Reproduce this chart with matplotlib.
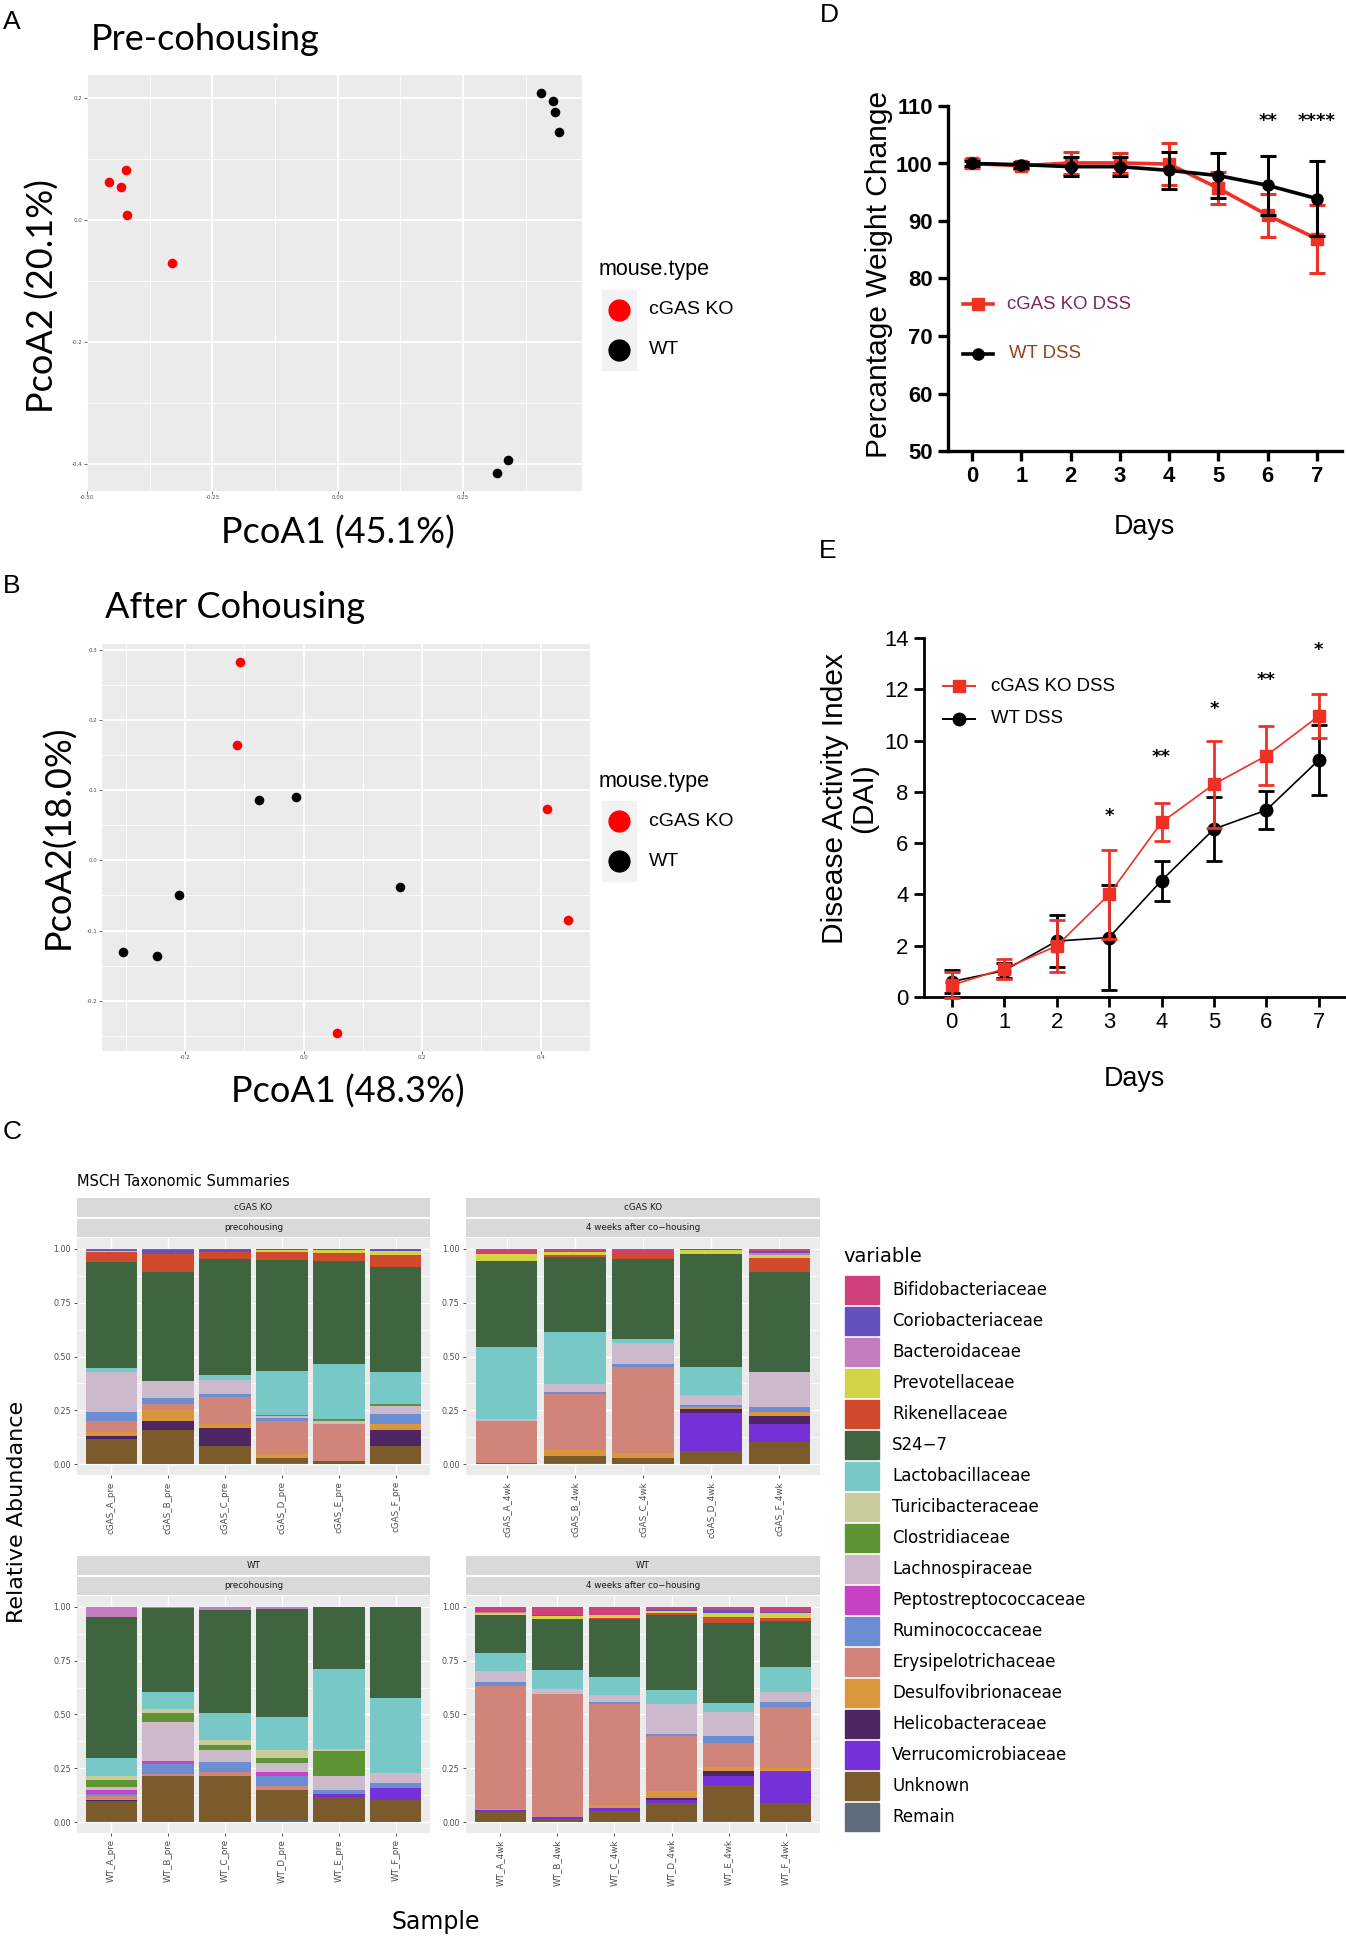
import numpy as np
import matplotlib
matplotlib.use("Agg")
import matplotlib.pyplot as plt
from matplotlib import font_manager
from matplotlib.patches import Rectangle
from matplotlib.lines import Line2D

W, H = 1346, 1950

# ---------------- A / B : PCoA scores ----------------
a_ko_x = [-0.457, -0.433, -0.423, -0.421, -0.331]
a_ko_y = [0.062, 0.055, 0.082, 0.008, -0.071]
a_wt_x = [0.405, 0.429, 0.433, 0.442, 0.340, 0.318]
a_wt_y = [0.209, 0.195, 0.178, 0.144, -0.393, -0.415]

b_ko_x = [-0.107, -0.112, 0.411, 0.446, 0.056]
b_ko_y = [0.283, 0.165, 0.074, -0.085, -0.247]
b_wt_x = [-0.076, -0.013, -0.210, -0.304, -0.248, 0.163]
b_wt_y = [0.086, 0.090, -0.050, -0.130, -0.137, -0.038]

# ---------------- D : weight change ----------------
days = [0, 1, 2, 3, 4, 5, 6, 7]
wt_ko = [100.0, 99.6, 100.1, 100.1, 99.9, 95.7, 91.0, 86.9]
wt_ko_err = [0.7, 0.6, 1.9, 1.8, 3.6, 2.8, 3.7, 5.9]
wt_wt = [100.0, 99.8, 99.45, 99.45, 98.8, 97.9, 96.2, 93.9]
wt_wt_err = [0.5, 0.5, 1.6, 1.6, 3.25, 3.85, 5.1, 6.5]
d_star_days = [6, 7]
d_stars = ["**", "****"]

# ---------------- E : DAI ----------------
dai_ko = [0.46, 1.10, 1.99, 4.0, 6.81, 8.30, 9.41, 10.96]
dai_ko_err = [0.5, 0.39, 1.0, 1.73, 0.74, 1.69, 1.15, 0.85]
dai_wt = [0.60, 1.03, 2.18, 2.32, 4.54, 6.55, 7.29, 9.24]
dai_wt_err = [0.45, 0.3, 1.0, 2.05, 0.78, 1.26, 0.75, 1.36]
e_star_days = [3, 4, 5, 6, 7]
e_stars = ["*", "**", "*", "**", "*"]
e_star_y = [7.05, 9.34, 11.23, 12.35, 13.52]

# ---------------- C : taxonomic summaries ----------------
# legend order (top of stack first)
taxa = ["Bifidobacteriaceae", "Coriobacteriaceae", "Bacteroidaceae", "Prevotellaceae",
        "Rikenellaceae", "S24\u22127", "Lactobacillaceae", "Turicibacteraceae",
        "Clostridiaceae", "Lachnospiraceae", "Peptostreptococcaceae", "Ruminococcaceae",
        "Erysipelotrichaceae", "Desulfovibrionaceae", "Helicobacteraceae",
        "Verrucomicrobiaceae", "Unknown", "Remain"]
tax_colors = ["#D0407A", "#6650BE", "#C57DC2", "#D2D444", "#D24A2E", "#3E6540",
              "#77C8C6", "#C9CC9A", "#5F9434", "#CCBACC", "#C842C4", "#6B8ED2",
              "#D1847A", "#D9963C", "#4E2663", "#7630D8", "#7B5B2C", "#5D6B7B"]

# each row is one sample, values listed bottom-up (Remain ... Bifidobacteriaceae)
ko_pre_names = ["cGAS_A_pre", "cGAS_B_pre", "cGAS_C_pre", "cGAS_D_pre", "cGAS_E_pre", "cGAS_F_pre"]
ko_pre = [
    [0.005, 0.114, 0, 0.012, 0.020, 0.050, 0.040, 0, 0.185, 0, 0, 0.020, 0.494, 0.045, 0.005, 0, 0.005, 0.005],
    [0.003, 0.158, 0, 0.039, 0.050, 0.028, 0.031, 0, 0.078, 0, 0, 0, 0.503, 0.085, 0, 0, 0.020, 0.005],
    [0.003, 0.080, 0, 0.083, 0.022, 0.122, 0.016, 0, 0.063, 0.004, 0, 0.020, 0.539, 0.031, 0, 0, 0.015, 0.002],
    [0.004, 0.024, 0, 0, 0.019, 0.154, 0.012, 0, 0.011, 0.003, 0, 0.204, 0.516, 0.036, 0.012, 0, 0.003, 0.002],
    [0.003, 0.012, 0, 0, 0, 0.172, 0, 0, 0.012, 0.010, 0, 0.255, 0.481, 0.036, 0.011, 0, 0.005, 0.003],
    [0.003, 0.080, 0, 0.078, 0.024, 0, 0.047, 0, 0.039, 0.008, 0, 0.149, 0.489, 0.052, 0.019, 0, 0.009, 0.003],
]
ko_4wk_names = ["cGAS_A_4wk", "cGAS_B_4wk", "cGAS_C_4wk", "cGAS_D_4wk", "cGAS_F_4wk"]
ko_4wk = [
    [0.004, 0.004, 0, 0, 0, 0.191, 0, 0, 0.012, 0, 0, 0.335, 0.395, 0, 0.034, 0, 0, 0.025],
    [0.004, 0.035, 0, 0, 0.027, 0.259, 0.009, 0, 0.038, 0, 0, 0.240, 0.348, 0.009, 0.014, 0, 0, 0.017],
    [0.003, 0.025, 0, 0, 0.025, 0.398, 0.016, 0, 0.094, 0, 0, 0.019, 0.373, 0.027, 0, 0, 0, 0.020],
    [0.003, 0.057, 0.179, 0.019, 0.006, 0, 0.011, 0, 0.047, 0, 0, 0.130, 0.526, 0, 0.016, 0, 0.003, 0.003],
    [0.003, 0.102, 0.080, 0.038, 0.020, 0, 0.024, 0, 0.161, 0, 0, 0, 0.462, 0.069, 0.013, 0.008, 0.008, 0.013],
]
wt_pre_names = ["WT_A_pre", "WT_B_pre", "WT_C_pre", "WT_D_pre", "WT_E_pre", "WT_F_pre"]
wt_pre = [
    [0.008, 0.090, 0, 0.005, 0.005, 0.012, 0.010, 0.018, 0.015, 0.033, 0.020, 0.084, 0.653, 0, 0, 0.047, 0, 0],
    [0.003, 0.213, 0, 0, 0, 0.009, 0.044, 0.016, 0.181, 0.039, 0.020, 0.081, 0.386, 0, 0, 0.008, 0, 0],
    [0.003, 0.213, 0, 0, 0, 0.019, 0.044, 0, 0.058, 0.020, 0.023, 0.128, 0.477, 0, 0, 0.016, 0, 0],
    [0.011, 0.137, 0, 0, 0, 0.020, 0.047, 0.016, 0.042, 0.027, 0.036, 0.152, 0.500, 0, 0, 0.012, 0, 0],
    [0.003, 0.114, 0.012, 0, 0, 0, 0.019, 0, 0.067, 0.116, 0.009, 0.373, 0.287, 0, 0, 0, 0, 0],
    [0.003, 0.102, 0.055, 0, 0, 0, 0.020, 0, 0.047, 0, 0, 0.348, 0.425, 0, 0, 0, 0, 0],
]
wt_4wk_names = ["WT_A_4wk", "WT_B_4wk", "WT_C_4wk", "WT_D_4wk", "WT_E_4wk", "WT_F_4wk"]
wt_4wk = [
    [0.003, 0.044, 0.012, 0, 0.004, 0.570, 0.020, 0, 0.047, 0, 0, 0.084, 0.179, 0, 0.008, 0.006, 0, 0.023],
    [0.003, 0.013, 0.008, 0, 0, 0.573, 0, 0, 0.020, 0, 0, 0.089, 0.239, 0, 0.010, 0, 0.006, 0.039],
    [0.003, 0.047, 0.016, 0, 0.012, 0.469, 0.011, 0, 0.033, 0, 0, 0.081, 0.269, 0.008, 0.015, 0, 0, 0.036],
    [0.003, 0.088, 0.011, 0.011, 0.033, 0.253, 0.011, 0, 0.141, 0, 0, 0.064, 0.349, 0.009, 0.007, 0, 0.007, 0.013],
    [0.008, 0.164, 0.044, 0.022, 0.017, 0.113, 0.031, 0, 0.114, 0, 0, 0.042, 0.370, 0.028, 0.019, 0, 0.012, 0.016],
    [0.003, 0.086, 0.148, 0, 0.017, 0.280, 0.023, 0, 0.047, 0, 0, 0.117, 0.213, 0.016, 0.019, 0, 0.008, 0.023],
]

# ---------------------------------------------------------------
names = {f.name for f in font_manager.fontManager.ttflist}
if "Liberation Sans Narrow" in names:
    narrow, nsc = "Liberation Sans Narrow", 1.0
else:
    narrow, nsc = "Liberation Sans", 0.84
calib = "Lato" if "Lato" in names else "DejaVu Sans"

plt.rcParams["font.family"] = ["DejaVu Sans"]
RED = "#EE3124"

fig = plt.figure(figsize=(W / 100, H / 100), dpi=100)


def box(l, t, r, b):
    return [l / W, 1 - b / H, (r - l) / W, (b - t) / H]


def ftext(x, y, s, **kw):
    kw.setdefault("ha", "center")
    kw.setdefault("va", "center")
    fig.text(x / W, 1 - y / H, s, **kw)


# ---------------- panels A and B ----------------
def pcoa(rect, kox, koy, wtx, wty, xlim, ylim, xt, xtl, xm, yt, ytl, ym):
    ax = fig.add_axes(rect)
    ax.set_facecolor("#EBEBEB")
    ax.scatter(kox, koy, s=48, color="#FF0000", linewidths=0, zorder=3)
    ax.scatter(wtx, wty, s=48, color="black", linewidths=0, zorder=3)
    ax.set_xlim(*xlim)
    ax.set_ylim(*ylim)
    ax.set_xticks(xt)
    ax.set_xticklabels(xtl)
    ax.set_xticks(xm, minor=True)
    ax.set_yticks(yt)
    ax.set_yticklabels(ytl)
    ax.set_yticks(ym, minor=True)
    ax.grid(which="major", color="white", lw=1.3)
    ax.grid(which="minor", color="white", lw=0.6)
    ax.set_axisbelow(True)
    for s in ax.spines.values():
        s.set_visible(False)
    ax.tick_params(which="major", labelsize=4, labelcolor="#4D4D4D", color="#333333",
                   length=2, width=0.5, pad=1)
    ax.tick_params(which="minor", length=0)
    return ax


def mouse_legend(y_title, y1, y2):
    ftext(599, y_title, "mouse.type", ha="left", fontsize=15.5, family="Liberation Sans")
    fig.patches.append(Rectangle((602 / W, 1 - (y2 + 20) / H), 34 / W, (y2 - y1 + 40) / H,
                                 transform=fig.transFigure, color="#F2F2F2", zorder=0))
    for y, c, lab in [(y1, "#FF0000", "cGAS KO"), (y2, "black", "WT")]:
        fig.add_artist(Line2D([619 / W], [1 - y / H], marker="o", ms=15, color=c, ls="none",
                              transform=fig.transFigure))
        ftext(649, y, lab, ha="left", fontsize=14, family="Liberation Sans")


pcoa(box(87, 75, 582, 491), a_ko_x, a_ko_y, a_wt_x, a_wt_y,
     (-0.50, 0.487), (-0.444, 0.238),
     [-0.5, -0.25, 0.0, 0.25], ["-0.50", "-0.25", "0.00", "0.25"], [-0.375, -0.125, 0.125, 0.375],
     [0.2, 0.0, -0.2, -0.4], ["0.2", "0.0", "-0.2", "-0.4"], [0.1, -0.1, -0.3])
ftext(12, 22, "A", fontsize=19, family="Liberation Sans")
ftext(91, 40, "Pre-cohousing", ha="left", fontsize=26, family=calib)
ftext(43, 296, "PcoA2 (20.1%)", rotation=90, fontsize=26, family=calib)
ftext(338, 533, "PcoA1 (45.1%)", fontsize=26, family=calib)
mouse_legend(269, 310, 350)

pcoa(box(102, 644, 590, 1051), b_ko_x, b_ko_y, b_wt_x, b_wt_y,
     (-0.340, 0.483), (-0.272, 0.309),
     [-0.2, 0.0, 0.2, 0.4], ["-0.2", "0.0", "0.2", "0.4"], [-0.3, -0.1, 0.1, 0.3],
     [0.3, 0.2, 0.1, 0.0, -0.1, -0.2], ["0.3", "0.2", "0.1", "0.0", "-0.1", "-0.2"],
     [0.25, 0.15, 0.05, -0.05, -0.15, -0.25])
ftext(12, 586, "B", fontsize=19, family="Liberation Sans")
ftext(105, 608, "After Cohousing", ha="left", fontsize=26, family=calib)
ftext(58, 837, "PcoA2(18.0%)", rotation=90, fontsize=26, family=calib)
ftext(348, 1092, "PcoA1 (48.3%)", fontsize=26, family=calib)
mouse_legend(781, 821, 861)


# ---------------- panels D and E ----------------
def prism_axes(ax, lw):
    for s in ["top", "right"]:
        ax.spines[s].set_visible(False)
    for s in ["left", "bottom"]:
        ax.spines[s].set_linewidth(lw)
    ax.tick_params(direction="out", length=7, width=lw, pad=4)


axD = fig.add_axes(box(948, 106, 1342, 451))
axD.errorbar(days, wt_ko, yerr=wt_ko_err, color=RED, marker="s", ms=8, lw=2.6,
             elinewidth=2.2, capsize=6, capthick=2.2, zorder=3, clip_on=False)
axD.errorbar(days, wt_wt, yerr=wt_wt_err, color="black", marker="o", ms=8, lw=2.6,
             elinewidth=2.2, capsize=6, capthick=2.2, zorder=4, clip_on=False)
axD.set_xlim(-0.49, 7.51)
axD.set_ylim(50, 110)
axD.set_xticks(days)
axD.set_yticks(range(50, 111, 10))
prism_axes(axD, 2.4)
for lbl in axD.get_xticklabels() + axD.get_yticklabels():
    lbl.set_fontfamily(narrow)
    lbl.set_fontweight("bold")
    lbl.set_fontsize(19 * nsc)
for d, s in zip(d_star_days, d_stars):
    axD.text(d, 107.4, s, ha="center", va="center", fontsize=13, fontweight="bold")
# legend keys
axD.plot([0.039, 0.115], [0.426, 0.426], color=RED, lw=2.6, transform=axD.transAxes, clip_on=False)
axD.plot([0.077], [0.426], color=RED, marker="s", ms=8, transform=axD.transAxes, clip_on=False)
axD.plot([0.039, 0.115], [0.282, 0.282], color="black", lw=2.6, transform=axD.transAxes, clip_on=False)
axD.plot([0.077], [0.282], color="black", marker="o", ms=8, transform=axD.transAxes, clip_on=False)
axD.text(0.150, 0.426, "cGAS KO DSS", transform=axD.transAxes, va="center", ha="left",
         fontsize=16 * nsc, family=narrow, color="#7A2A55")
axD.text(0.155, 0.282, "WT DSS", transform=axD.transAxes, va="center", ha="left",
         fontsize=16 * nsc, family=narrow, color="#93401C")
ftext(829, 15, "D", fontsize=19, family="Liberation Sans")
ftext(879, 274, "Percantage Weight Change", rotation=90, fontsize=21.5, family="Liberation Sans")
ftext(1144, 527, "Days", fontsize=23 * nsc, family=narrow)

axE = fig.add_axes(box(924, 638, 1345, 997))
axE.errorbar(days, dai_wt, yerr=dai_wt_err, color="black", marker="o", ms=9, lw=1.2,
             elinewidth=2.0, capsize=6, capthick=2.0, zorder=3, clip_on=False)
axE.errorbar(days, dai_ko, yerr=dai_ko_err, color=RED, marker="s", ms=9, lw=1.2,
             elinewidth=2.0, capsize=6, capthick=2.0, zorder=4, clip_on=False)
axE.set_xlim(-0.53, 7.5)
axE.set_ylim(0, 14)
axE.set_xticks(days)
axE.set_yticks(range(0, 15, 2))
prism_axes(axE, 2.0)
for lbl in axE.get_xticklabels() + axE.get_yticklabels():
    lbl.set_fontfamily(narrow)
    lbl.set_fontsize(19 * nsc)
for d, s, y in zip(e_star_days, e_stars, e_star_y):
    axE.text(d, y, s, ha="center", va="center", fontsize=13, fontweight="bold")
axE.plot([0.045, 0.122], [0.866, 0.866], color=RED, lw=1.4, transform=axE.transAxes, clip_on=False)
axE.plot([0.083], [0.866], color=RED, marker="s", ms=9, transform=axE.transAxes, clip_on=False)
axE.plot([0.045, 0.122], [0.775, 0.775], color="black", lw=1.4, transform=axE.transAxes, clip_on=False)
axE.plot([0.083], [0.775], color="black", marker="o", ms=9, transform=axE.transAxes, clip_on=False)
axE.text(0.158, 0.866, "cGAS KO DSS", transform=axE.transAxes, va="center", ha="left",
         fontsize=16 * nsc, family=narrow)
axE.text(0.158, 0.775, "WT DSS", transform=axE.transAxes, va="center", ha="left",
         fontsize=16 * nsc, family=narrow)
ftext(828, 551, "E", fontsize=19, family="Liberation Sans")
ftext(850, 798, "Disease Activity Index\n(DAI)", rotation=90, fontsize=21.5,
      family="Liberation Sans", linespacing=1.05)
ftext(1134, 1079, "Days", fontsize=23 * nsc, family=narrow)


# ---------------- panel C ----------------
def facet(l, t, r, b, rows, labels, strip1, strip2):
    ax = fig.add_axes(box(l, t, r, b))
    vals = np.array(rows)
    x = np.arange(1, len(rows) + 1)
    bottom = np.zeros(len(rows))
    for j in range(vals.shape[1]):
        col = tax_colors[len(taxa) - 1 - j]
        ax.bar(x, vals[:, j], 0.9, bottom=bottom, color=col, linewidth=0, zorder=2)
        bottom += vals[:, j]
    ax.set_xlim(0.4, len(rows) + 0.6)
    ax.set_ylim(-0.05, 1.05)
    ax.set_facecolor("#EBEBEB")
    ax.set_xticks(x)
    ax.set_xticklabels(labels, rotation=90, fontsize=6.3, color="#4D4D4D")
    ax.set_yticks([0, 0.25, 0.5, 0.75, 1.0])
    ax.set_yticklabels(["0.00", "0.25", "0.50", "0.75", "1.00"], fontsize=5.8, color="#4D4D4D")
    ax.set_yticks([0.125, 0.375, 0.625, 0.875], minor=True)
    ax.grid(which="major", color="white", lw=1.0)
    ax.grid(which="minor", axis="y", color="white", lw=0.5)
    ax.set_axisbelow(True)
    for s in ax.spines.values():
        s.set_visible(False)
    ax.tick_params(which="major", length=2.5, width=0.6, color="#333333", pad=2)
    ax.tick_params(which="minor", length=0)
    # facet strips
    for (st, sb), txt in [((t - 40, t - 21), strip1), ((t - 19, t - 1), strip2)]:
        sa = fig.add_axes(box(l, st, r, sb))
        sa.set_facecolor("#D9D9D9")
        sa.set_xticks([])
        sa.set_yticks([])
        for s in sa.spines.values():
            s.set_visible(False)
        sa.text(0.5, 0.5, txt, ha="center", va="center", fontsize=6.3, color="#1A1A1A",
                transform=sa.transAxes)
    return ax


facet(77, 1238, 430, 1475, ko_pre, ko_pre_names, "cGAS KO", "precohousing")
facet(466, 1238, 820, 1475, ko_4wk, ko_4wk_names, "cGAS KO", "4 weeks after co\u2212housing")
facet(77, 1596, 430, 1833, wt_pre, wt_pre_names, "WT", "precohousing")
facet(466, 1596, 820, 1833, wt_4wk, wt_4wk_names, "WT", "4 weeks after co\u2212housing")

ftext(12, 1132, "C", fontsize=19, family="Liberation Sans")
ftext(77, 1181, "MSCH Taxonomic Summaries", ha="left", fontsize=10.5)
ftext(17, 1512, "Relative Abundance", rotation=90, fontsize=16)
ftext(436, 1922, "Sample", fontsize=17)

# legend for taxa
ftext(843, 1256, "variable", ha="left", fontsize=14)
for i, (name, col) in enumerate(zip(taxa, tax_colors)):
    yc = 1290 + 31 * i
    fig.patches.append(Rectangle((845 / W, 1 - (yc + 14) / H), 34 / W, 28 / H,
                                 transform=fig.transFigure, color=col, zorder=1))
    ftext(892, yc, name, ha="left", fontsize=12)

fig.savefig("out.png", dpi=100)
